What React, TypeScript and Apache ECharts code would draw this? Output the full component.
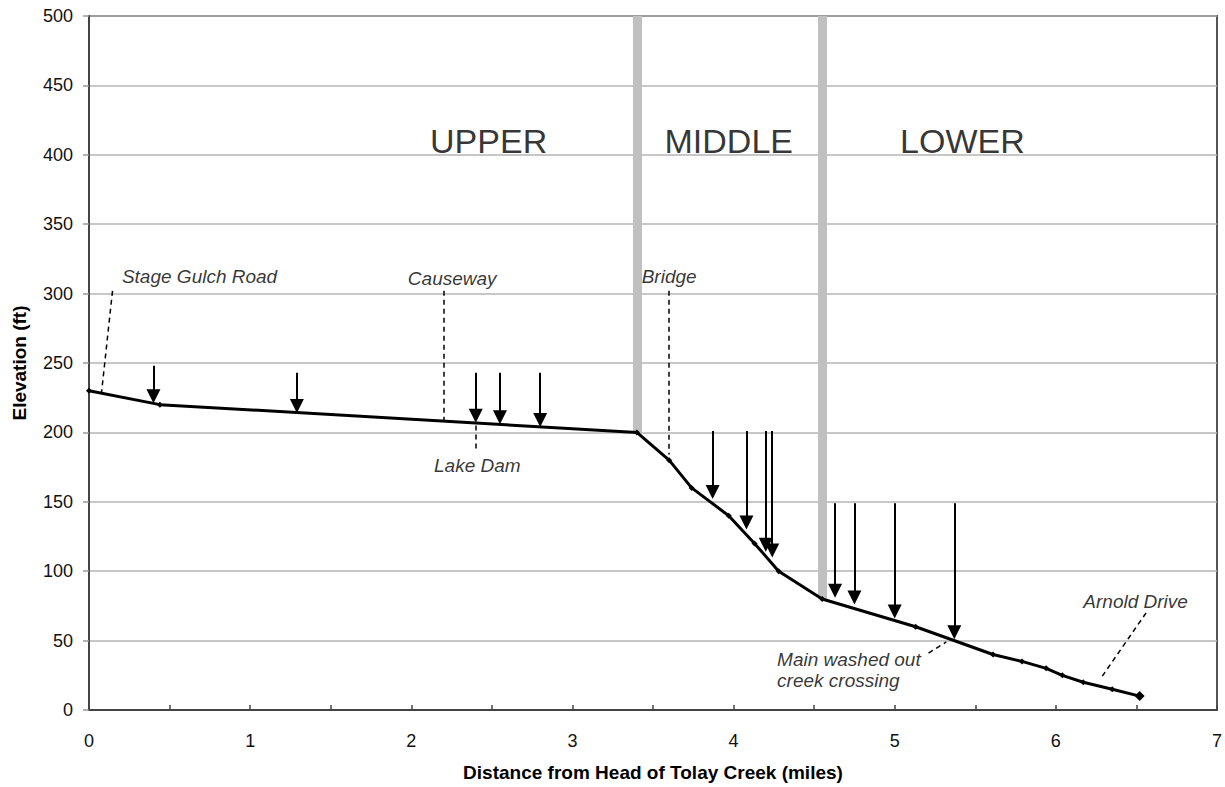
import React, { useEffect, useRef } from "react";
import * as echarts from "echarts";

// Profile of Tolay Creek
const profileX = [0, 0.44, 3.4, 3.6, 3.74, 3.97, 4.13, 4.28, 4.55, 5.13, 5.61, 5.79, 5.94, 6.04, 6.17, 6.35, 6.52];
const profileY = [230, 220, 200, 180, 160, 140, 120, 100, 80, 60, 40, 35, 30, 25, 20, 15, 10];

// Arrows (x, top elevation, tip elevation)
const arrowX = [0.4, 1.29, 2.4, 2.55, 2.8, 3.87, 4.08, 4.2, 4.24, 4.63, 4.75, 5.0, 5.37];
const arrowTop = [248, 243, 243, 243, 243, 201, 201, 201, 201, 149, 149, 149, 149];
const arrowTip = [221, 214, 207, 206, 204, 152, 130, 114, 110, 81, 76, 66, 51];

// Reach boundaries
const boundaryX = [3.4, 4.55];
const boundaryBottom = [200, 80];

// Reach names
const reachNames = ["UPPER", "MIDDLE", "LOWER"];
const reachX = [2.48, 3.97, 5.42];
const reachY = [410, 410, 410];

// Landmark annotations
const noteNames = ["Stage Gulch Road", "Causeway", "Lake Dam", "Bridge", "Arnold Drive", "Main washed out\ncreek crossing"];
const noteX = [0.686, 2.254, 2.41, 3.6, 6.495, 4.27];
const noteY = [312, 311, 176, 312, 78, 29];
// Leader lines [x1, y1, x2, y2]
const leaderLines = [
  [0.146, 302, 0.078, 229],
  [2.204, 302, 2.204, 209],
  [2.403, 205, 2.403, 187],
  [3.6, 302, 3.6, 184],
  [6.56, 70, 6.28, 23],
  [5.21, 41, 5.32, 49],
];

const xTicks = [0, 1, 2, 3, 4, 5, 6, 7];
const yTicks = [0, 50, 100, 150, 200, 250, 300, 350, 400, 450, 500];

const FONT = "'Liberation Sans', Arial, sans-serif";
// arrow head: the symbol is centred on the line end, so stop the line half a head (in ft) above the tip
const HEAD_HALF_FT = 5;

export default function App() {
  const ref = useRef<HTMLDivElement>(null);
  useEffect(() => {
    if (!ref.current) return;
    const chart = echarts.init(ref.current, undefined, { renderer: "svg" });
    const option: any = {
      animation: false,
      backgroundColor: "#ffffff",
      textStyle: { fontFamily: FONT },
      grid: {
        left: 89,
        right: 6,
        top: 16,
        bottom: 77,
        show: true,
        borderColor: "#555",
        borderWidth: 2,
        backgroundColor: "transparent",
      },
      xAxis: {
        type: "value",
        min: xTicks[0],
        max: xTicks[xTicks.length - 1],
        interval: 0.5,
        name: "Distance from Head of Tolay Creek (miles)",
        nameLocation: "middle",
        nameGap: 53,
        nameTextStyle: { fontSize: 19, fontWeight: "bold", color: "#000", fontFamily: FONT },
        axisLine: { show: true, lineStyle: { color: "#444", width: 2 } },
        axisTick: { show: true, inside: true, length: 5, lineStyle: { color: "#444", width: 1.5 } },
        axisLabel: {
          fontSize: 18,
          color: "#111",
          margin: 22,
          fontFamily: FONT,
          formatter: (v: number) => (xTicks.includes(v) ? String(v) : ""),
        },
        splitLine: { show: false },
      },
      yAxis: {
        type: "value",
        min: yTicks[0],
        max: yTicks[yTicks.length - 1],
        interval: 50,
        name: "Elevation (ft)",
        nameLocation: "middle",
        nameGap: 60,
        nameTextStyle: { fontSize: 19, fontWeight: "bold", color: "#000", fontFamily: FONT },
        axisLine: { show: true, lineStyle: { color: "#444", width: 2 } },
        axisTick: { show: true, inside: false, length: 6, lineStyle: { color: "#999", width: 1.5 } },
        axisLabel: { fontSize: 18, color: "#111", margin: 16, fontFamily: FONT },
        splitLine: { show: true, lineStyle: { color: "#b4b4b4", width: 1.5 } },
      },
      series: [
        {
          type: "lines",
          coordinateSystem: "cartesian2d",
          z: 1,
          silent: true,
          lineStyle: { color: "#c0c0c0", width: 9, opacity: 1 },
          symbol: ["none", "none"],
          data: boundaryX.map((x, i) => ({ coords: [[x, yTicks[yTicks.length - 1]], [x, boundaryBottom[i]]] })),
        },
        {
          type: "lines",
          coordinateSystem: "cartesian2d",
          z: 2,
          silent: true,
          lineStyle: { color: "#000", width: 1.5, type: [5, 4], opacity: 1 },
          symbol: ["none", "none"],
          data: leaderLines.map((l) => ({ coords: [[l[0], l[1]], [l[2], l[3]]] })),
        },
        {
          type: "line",
          z: 3,
          data: profileX.map((x, i) => [x, profileY[i]]),
          lineStyle: { color: "#000", width: 3 },
          itemStyle: { color: "#000" },
          symbol: "diamond",
          symbolSize: (v: number[], p: any) => (p.dataIndex === profileX.length - 1 ? 10 : 6),
          showSymbol: true,
        },
        {
          type: "lines",
          coordinateSystem: "cartesian2d",
          z: 4,
          silent: true,
          lineStyle: { color: "#000", width: 2, opacity: 1 },
          symbol: ["none", "triangle"],
          symbolSize: [12, 14],
          data: arrowX.map((x, i) => ({ coords: [[x, arrowTop[i]], [x, arrowTip[i] + HEAD_HALF_FT]] })),
        },
        {
          type: "scatter",
          z: 5,
          silent: true,
          symbolSize: 0,
          itemStyle: { color: "transparent" },
          label: {
            show: true,
            position: "inside",
            formatter: "{b}",
            fontSize: 34,
            color: "#000",
            fontFamily: FONT,
          },
          data: reachNames.map((n, i) => ({ name: n, value: [reachX[i], reachY[i]] })),
        },
        {
          type: "scatter",
          z: 5,
          silent: true,
          symbolSize: 0,
          itemStyle: { color: "transparent" },
          label: {
            show: true,
            position: "inside",
            formatter: "{b}",
            fontSize: 19,
            fontStyle: "italic",
            color: "#000",
            fontFamily: FONT,
            lineHeight: 21,
          },
          data: noteNames.map((n, i) => ({
            name: n,
            value: [noteX[i], noteY[i]],
            label: n.includes("\n") ? { align: "left" } : undefined,
          })),
        },
      ],
    };
    chart.setOption(option);
    return () => chart.dispose();
  }, []);
  return (
    <div
      ref={ref}
      style={{ position: "fixed", left: 0, top: 0, width: 1225, height: 787, background: "#fff" }}
    />
  );
}
